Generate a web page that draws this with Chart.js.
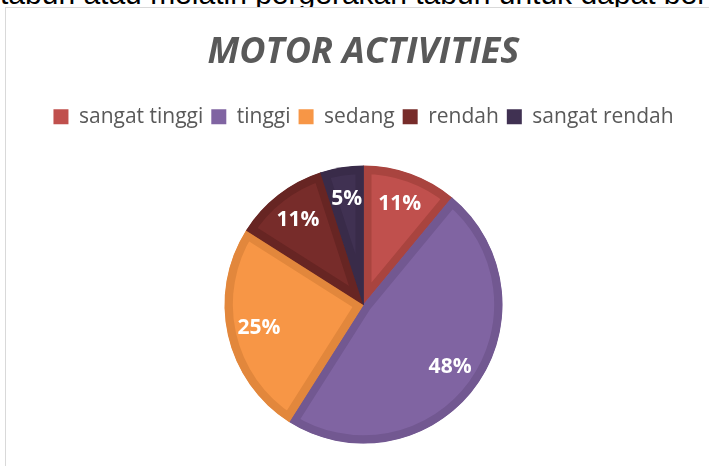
<!DOCTYPE html>
<html>
<head>
<meta charset="utf-8">
<title>Motor Activities</title>
<script src="https://cdn.jsdelivr.net/npm/chart.js@4.4.1/dist/chart.umd.min.js"></script>
<style>
    html, body { margin: 0; padding: 0; background: #fff; overflow: hidden; }
    .page { position: relative; width: 709px; height: 466px; overflow: hidden; }
    .line-atas {
        position: absolute; left: 0; top: -21px; white-space: nowrap;
        font-family: "Liberation Sans", Arial, sans-serif; font-size: 30px; line-height: 30px; color: #000;
    }
    .bingkai {
        position: absolute; left: 5px; top: 7px; right: -2px; bottom: -2px;
        border-left: 1.5px solid #d9d9d9; border-top: 1.5px solid #d9d9d9;
        background: #fff;
    }
    #motorChart { position: absolute; left: 0; top: 0; }
</style>
</head>
<body>
<div class="page">
    <div class="line-atas">tabun atau melatih pergerakan tabun untuk dapat ber</div>
    <div class="bingkai"></div>
    <canvas id="motorChart" width="709" height="480"></canvas>
</div>
<script>
// Data grafik
const kategori = ['sangat tinggi', 'tinggi', 'sedang', 'rendah', 'sangat rendah'];
const persen = [11, 48, 25, 11, 5];
const warnaIsi = ['#C0504D', '#8064A2', '#F79646', '#772C2A', '#403152'];
const warnaTepi = ['#A9443F', '#725891', '#E2873C', '#672523', '#392B49'];

// Plugin kecil untuk menulis persentase di tiap irisan
const labelPersen = {
    id: 'labelPersen',
    afterDatasetsDraw(chart) {
        const ctx = chart.ctx;
        const meta = chart.getDatasetMeta(0);
        ctx.save();
        ctx.fillStyle = '#ffffff';
        ctx.font = 'bold 21px "Open Sans", sans-serif';
        ctx.textAlign = 'center';
        ctx.textBaseline = 'middle';
        meta.data.forEach((arc, i) => {
            const p = arc.getProps(['x', 'y', 'startAngle', 'endAngle', 'outerRadius'], true);
            const sudut = (p.startAngle + p.endAngle) / 2;
            const r = p.outerRadius * 0.77;
            ctx.fillText(persen[i] + '%', p.x + Math.cos(sudut) * r, p.y + Math.sin(sudut) * r);
        });
        ctx.restore();
    }
};

const ctx = document.getElementById('motorChart').getContext('2d');
new Chart(ctx, {
    type: 'pie',
    data: {
        labels: kategori,
        datasets: [{
            data: persen,
            backgroundColor: warnaIsi,
            borderColor: warnaTepi,
            borderWidth: 8,
            borderAlign: 'inner',
            radius: 139
        }]
    },
    options: {
        responsive: false,
        animation: false,
        layout: {
            padding: { left: 18, right: 0, top: 8, bottom: 8 }
        },
        plugins: {
            title: {
                display: true,
                text: 'MOTOR ACTIVITIES',
                color: '#595959',
                font: { family: '"Open Sans", sans-serif', size: 36, weight: 'bold', style: 'italic' },
                padding: { top: 23, bottom: 24 }
            },
            legend: {
                position: 'top',
                labels: {
                    color: '#595959',
                    font: { family: '"Open Sans", sans-serif', size: 21 },
                    boxWidth: 15,
                    boxHeight: 15,
                    padding: 8,
                    generateLabels: function(chart) {
                        return kategori.map((nama, i) => ({
                            text: nama,
                            fillStyle: warnaIsi[i],
                            strokeStyle: warnaIsi[i],
                            lineWidth: 0,
                            fontColor: '#595959',
                            index: i
                        }));
                    }
                }
            },
            tooltip: { enabled: false }
        }
    },
    plugins: [labelPersen]
});
</script>
</body>
</html>
